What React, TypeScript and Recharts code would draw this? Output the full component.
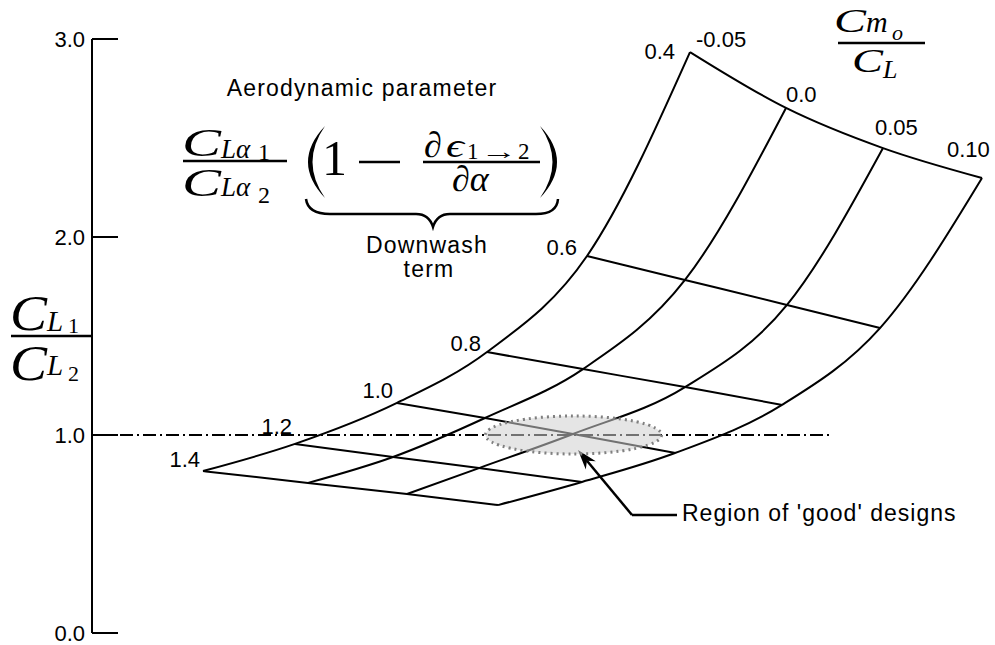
import React from 'react';
import { LineChart, Line, XAxis, YAxis, ReferenceLine, ReferenceDot, LabelList } from 'recharts';

// carpet parameters
const DOWNWASH = [0.4, 0.6, 0.8, 1.0, 1.2, 1.4];
const CM_OVER_CL = [-0.05, 0.0, 0.05, 0.1];

// CL1/CL2 at each carpet node: one row per Cm/CL value, columns follow DOWNWASH
const LIFT_RATIO = [
  [2.934, 1.904, 1.419, 1.162, 0.955, 0.818],
  [2.652, 1.783, 1.333, 1.086, 0.889, 0.758],
  [2.449, 1.657, 1.242, 1.005, 0.833, 0.702],
  [2.298, 1.540, 1.152, 0.909, 0.763, 0.646],
];

// carpet abscissa of each node (arbitrary horizontal offset, same layout as LIFT_RATIO)
const CARPET_X = [
  [5.98, 4.95, 3.95, 3.05, 2.03, 1.11],
  [6.94, 5.93, 4.91, 3.93, 3.01, 2.16],
  [7.91, 6.95, 5.93, 4.81, 3.87, 3.15],
  [8.90, 7.88, 6.90, 5.83, 4.90, 4.06],
];

const Y_TICKS = [0, 1, 2, 3];

// target line CL1/CL2 = 1 and the highlighted design region around it
const TARGET_RATIO = 1.0;
const TARGET_SPAN = [0.28, 7.4];
const GOOD_REGION = { x: 4.815, y: 1.0 };
const POINTER_CORNER = { x: 5.4, y: 0.596 };
const POINTER_TIP = { x: 4.86, y: 0.924 };
const POINTER_END = { x: 5.85, y: 0.596 };

// label nudges (px) for the downwash and Cm/CL annotations
const DOWNWASH_LABEL_OFFSET = [[-15, 7], [-10, -1], [-6, -1], [-4, -5], [-3, -10], [-3, -4]];
const CM_LABEL_OFFSET = [[6, -5], [0, -6], [-8, -13], [-35, -21]];

const SANS = '"Liberation Sans", Arial, sans-serif';
const SERIF = '"Liberation Serif", "DejaVu Serif", serif';

const cmLines = CM_OVER_CL.map((c, j) =>
  DOWNWASH.map((d, i) => ({ x: CARPET_X[j][i], y: LIFT_RATIO[j][i], d })).sort((a, b) => a.x - b.x)
);
const downwashLines = DOWNWASH.map((d, i) =>
  CM_OVER_CL.map((c, j) => ({ x: CARPET_X[j][i], y: LIFT_RATIO[j][i], c }))
);

const pos = (p: any) => {
  const vb = p.viewBox || {};
  return { x: p.x ?? vb.x, y: p.y ?? vb.y };
};

const AxisTick = (props: any) => {
  const { x, y, payload } = props;
  return (
    <g>
      <line x1={x} x2={x + 26} y1={y} y2={y} stroke="#000" strokeWidth={2} />
      <text x={x - 7} y={y} dy="0.36em" textAnchor="end" fontSize={22} fontFamily={SANS} fill="#000">
        {Number(payload.value).toFixed(1)}
      </text>
    </g>
  );
};

const DownwashLabel = (p: any) => {
  const { x, y } = pos(p);
  const k = DOWNWASH.indexOf(p.value);
  if (k < 0) return null;
  const [dx, dy] = DOWNWASH_LABEL_OFFSET[k];
  return (
    <text x={x + dx} y={y + dy} textAnchor="end" fontSize={22} fontFamily={SANS} fill="#000">
      {Number(p.value).toFixed(1)}
    </text>
  );
};

const CmLabel = (p: any) => {
  const { x, y } = pos(p);
  const k = CM_OVER_CL.indexOf(p.value);
  if (k < 0) return null;
  const [dx, dy] = CM_LABEL_OFFSET[k];
  const v = Number(p.value);
  return (
    <text x={x + dx} y={y + dy} textAnchor="start" fontSize={22} fontFamily={SANS} fill="#000">
      {v === 0 ? '0.0' : v.toFixed(2)}
    </text>
  );
};

const RegionEllipse = (p: any) => (
  <ellipse
    cx={p.cx}
    cy={p.cy}
    rx={88}
    ry={19}
    fill="#d0d0d0"
    fillOpacity={0.55}
    stroke="#808080"
    strokeWidth={3}
    strokeDasharray="2 4"
  />
);

const ArrowShape = (p: any) => {
  const { x1, y1, x2, y2 } = p;
  const dx = x2 - x1;
  const dy = y2 - y1;
  const len = Math.hypot(dx, dy) || 1;
  const ux = dx / len;
  const uy = dy / len;
  const nx = -uy;
  const ny = ux;
  const head = 20;
  const half = 6.5;
  const bx = x2 - ux * head;
  const by = y2 - uy * head;
  const notchX = x2 - ux * 14;
  const notchY = y2 - uy * 14;
  return (
    <g>
      <line x1={x1} y1={y1} x2={notchX} y2={notchY} stroke="#000" strokeWidth={2.5} />
      <polygon
        points={`${x2},${y2} ${bx + nx * half},${by + ny * half} ${notchX},${notchY} ${bx - nx * half},${by - ny * half}`}
        fill="#000"
      />
    </g>
  );
};

const PointerText = (p: any) => {
  const vb = p.viewBox || {};
  const cx = vb.cx ?? vb.x ?? 0;
  const cy = vb.cy ?? vb.y ?? 0;
  return (
    <text x={cx + 5} y={cy + 6} fontSize={23} letterSpacing={1} fontFamily={SANS} fill="#000">
      Region of 'good' designs
    </text>
  );
};

// italic glyph stretched to the width of the typeset symbol
const Glyph = ({ x, y, size, w, ch }: { x: number; y: number; size: number; w: number; ch: string }) => (
  <text x={x} y={y} fontSize={size} fontStyle="italic" textLength={w} lengthAdjust="spacingAndGlyphs">
    {ch}
  </text>
);

const Annotations = () => (
  <svg
    width={995}
    height={645}
    style={{ position: 'absolute', left: 0, top: 0, pointerEvents: 'none' }}
  >
    {/* axis title CL1 / CL2 */}
    <g fontFamily={SERIF} fill="#000">
      <Glyph x={10} y={330} size={50} w={37} ch="C" />
      <text x={47} y={331} fontSize={29} fontStyle="italic">L</text>
      <text x={68} y={333} fontSize={22}>1</text>
      <line x1={11} x2={91} y1={336} y2={336} stroke="#000" strokeWidth={2.5} />
      <Glyph x={10} y={380} size={50} w={37} ch="C" />
      <text x={47} y={375} fontSize={29} fontStyle="italic">L</text>
      <text x={68} y={381} fontSize={22}>2</text>
    </g>

    {/* Cm/CL title */}
    <g fontFamily={SERIF} fill="#000">
      <Glyph x={834} y={32} size={34} w={32} ch="C" />
      <text x={866} y={32} fontSize={30} fontStyle="italic">m</text>
      <text x={892} y={40} fontSize={22} fontStyle="italic">o</text>
      <line x1={838} x2={925} y1={43} y2={43} stroke="#000" strokeWidth={2.5} />
      <Glyph x={852} y={72} size={34} w={31} ch="C" />
      <text x={883} y={78} fontSize={26} fontStyle="italic">L</text>
    </g>

    {/* aerodynamic parameter */}
    <text x={362} y={96} textAnchor="middle" fontSize={23} letterSpacing={1.2} fontFamily={SANS} fill="#000">
      Aerodynamic parameter
    </text>
    <g fontFamily={SERIF} fill="#000">
      <Glyph x={182} y={156} size={40} w={39} ch="C" />
      <text x={221} y={158} fontSize={27} fontStyle="italic">Lα</text>
      <text x={258} y={160} fontSize={24}>1</text>
      <line x1={183} x2={287} y1={161} y2={161} stroke="#000" strokeWidth={2.5} />
      <Glyph x={182} y={196} size={40} w={39} ch="C" />
      <text x={221} y={196} fontSize={27} fontStyle="italic">Lα</text>
      <text x={258} y={203} fontSize={24}>2</text>

      <path d="M 325 126 Q 291 162 325 198 Q 300 162 325 126 Z" fill="#000" />
      <text x={322} y={175} fontSize={50}>1</text>
      <line x1={359} x2={400} y1={162} y2={162} stroke="#000" strokeWidth={2.5} />
      <text x={424} y={157} fontSize={36} fontStyle="italic">∂</text>
      <Glyph x={446} y={157} size={34} w={18} ch="ϵ" />
      <text x={467} y={159} fontSize={23}>1</text>
      <text x={480} y={159} fontSize={23} textLength={37} lengthAdjust="spacingAndGlyphs">→</text>
      <text x={518} y={159} fontSize={23}>2</text>
      <line x1={423} x2={540} y1={162} y2={162} stroke="#000" strokeWidth={2.5} />
      <text x={452} y={191} fontSize={36} fontStyle="italic">∂α</text>
      <path d="M 540 126 Q 574 162 540 198 Q 565 162 540 126 Z" fill="#000" />
    </g>
    <path
      d="M 306 199 Q 308 214 330 214 L 416 214 Q 429 214 433 227 Q 437 214 450 214 L 536 214 Q 557 214 558 199"
      fill="none"
      stroke="#000"
      strokeWidth={2.5}
    />
    <text x={427} y={253} textAnchor="middle" fontSize={23} letterSpacing={1.2} fontFamily={SANS} fill="#000">
      Downwash
    </text>
    <text x={429} y={277} textAnchor="middle" fontSize={23} letterSpacing={1.2} fontFamily={SANS} fill="#000">
      term
    </text>
  </svg>
);

export default function App() {
  return (
    <div style={{ position: 'absolute', left: 0, top: 0, width: 995, height: 645, background: '#fff' }}>
      <LineChart width={995} height={645} margin={{ top: 39, right: 3, bottom: 12, left: 0 }}>
        <XAxis type="number" dataKey="x" domain={[0, 9]} hide allowDataOverflow />
        <YAxis
          type="number"
          domain={[0, 3]}
          ticks={Y_TICKS}
          width={92}
          axisLine={{ stroke: '#000', strokeWidth: 2 }}
          tickLine={false}
          tickSize={0}
          tickMargin={0}
          tick={<AxisTick />}
        />
        <ReferenceLine
          segment={[{ x: TARGET_SPAN[0], y: TARGET_RATIO }, { x: TARGET_SPAN[1], y: TARGET_RATIO }]}
          stroke="#000"
          strokeWidth={2}
          strokeDasharray="13 4 2 4"
        />
        {cmLines.map((pts, j) => (
          <Line
            key={`cm-${j}`}
            data={pts}
            dataKey="y"
            type="monotone"
            stroke="#000"
            strokeWidth={2}
            dot={false}
            activeDot={false}
            isAnimationActive={false}
          >
            {j === 0 && <LabelList dataKey="d" content={<DownwashLabel />} />}
          </Line>
        ))}
        {downwashLines.map((pts, i) => (
          <Line
            key={`dw-${i}`}
            data={pts}
            dataKey="y"
            type="monotone"
            stroke="#000"
            strokeWidth={2}
            dot={false}
            activeDot={false}
            isAnimationActive={false}
          >
            {i === 0 && <LabelList dataKey="c" content={<CmLabel />} />}
          </Line>
        ))}
        <ReferenceDot x={GOOD_REGION.x} y={GOOD_REGION.y} r={0} shape={<RegionEllipse />} />
        <ReferenceLine
          segment={[{ x: POINTER_CORNER.x, y: POINTER_CORNER.y }, { x: POINTER_TIP.x, y: POINTER_TIP.y }]}
          shape={<ArrowShape />}
        />
        <ReferenceLine
          segment={[{ x: POINTER_CORNER.x, y: POINTER_CORNER.y }, { x: POINTER_END.x, y: POINTER_END.y }]}
          stroke="#000"
          strokeWidth={2.5}
        />
        <ReferenceDot
          x={POINTER_END.x}
          y={POINTER_END.y}
          r={0}
          fill="none"
          stroke="none"
          label={<PointerText />}
        />
      </LineChart>
      <Annotations />
    </div>
  );
}
